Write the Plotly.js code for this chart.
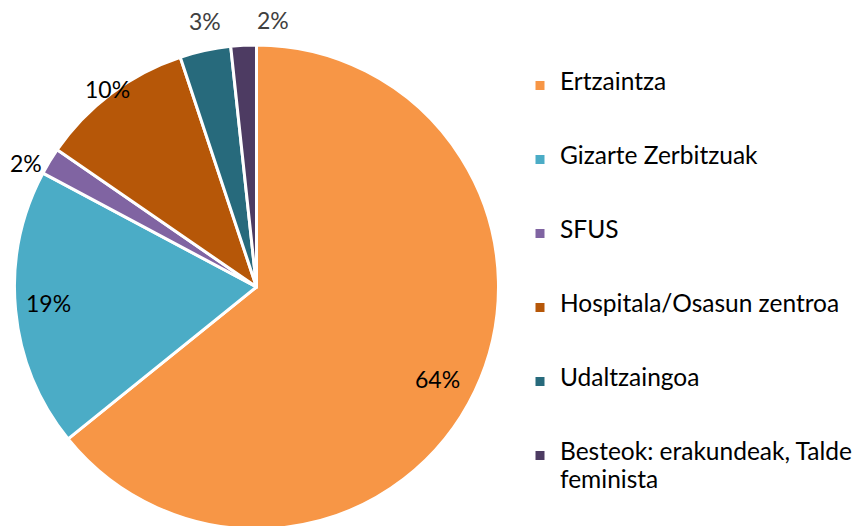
<!DOCTYPE html>
<html>
<head>
<meta charset="utf-8">
<script src="https://cdn.plot.ly/plotly-3.0.1.min.js"></script>
<style>html,body{margin:0;padding:0;background:#fff;overflow:hidden;}#chart{width:862px;height:529px;}</style>
</head>
<body>
<div id="chart"></div>
<script>
var categories = ["Ertzaintza", "Gizarte Zerbitzuak", "SFUS", "Hospitala/Osasun zentroa", "Udaltzaingoa", "Besteok: erakundeak, Talde feminista"];
var values = [64.2, 18.6, 1.8, 10.3, 3.4, 1.7];
var colors = ["#F79646", "#4BACC6", "#8064A2", "#B65708", "#276A7C", "#4D3B62"];
var labelColors = ["#000000", "#000000", "#000000", "#000000", "#404040", "#404040"];
// label placement (style): radius as a fraction of the pie radius, and small angular nudge in degrees
var labelRadius = [0.84, 0.86, 1.08, 1.025, 1.12, 1.105];
var labelNudge = [1.5, 1, -3, 0, 1.2, 6.6];

var W = 862, H = 529;
var pieLeft = 14.5, pieRight = 498.5, pieTop = 45;
var R = (pieRight - pieLeft) / 2;
var cx = (pieLeft + pieRight) / 2, cy = pieTop + R;

var bigFont = 24.5;
var legendLabels = categories.map(function (c) {
  var parts = c === "Besteok: erakundeak, Talde feminista"
    ? ["Besteok: erakundeak, Talde", " ", "feminista", " ", " "]
    : [c, " ", " ", " ", " "];
  return parts.map(function (p) { return '<span style="font-size:' + bigFont + 'px">' + p + '</span>'; }).join("<br>");
});

var total = values.reduce(function (a, b) { return a + b; }, 0);
var annotations = [];
var cum = 0;
values.forEach(function (v, i) {
  var mid = (cum + v / 2) / total * 360 + labelNudge[i];
  cum += v;
  var th = mid * Math.PI / 180;
  var r = R * labelRadius[i];
  var px = cx + r * Math.sin(th);
  var py = cy - r * Math.cos(th);
  annotations.push({
    xref: "paper", yref: "paper",
    x: px / W, y: 1 - py / H,
    xanchor: "center", yanchor: "middle",
    text: Math.round(v / total * 100) + "%",
    showarrow: false,
    font: { family: "Lato, sans-serif", size: 23, color: labelColors[i] }
  });
});

var trace = {
  type: "pie",
  labels: legendLabels,
  values: values,
  sort: false,
  direction: "clockwise",
  rotation: 0,
  marker: { colors: colors, line: { color: "#ffffff", width: 3 } },
  textinfo: "none",
  hoverinfo: "none",
  automargin: false,
  domain: { x: [pieLeft / W, pieRight / W], y: [0, (H - pieTop) / H] }
};

var layout = {
  width: W,
  height: H,
  margin: { l: 0, r: 0, t: 0, b: 0 },
  paper_bgcolor: "#ffffff",
  font: { family: "Lato, sans-serif", color: "#000000" },
  showlegend: true,
  annotations: annotations,
  legend: {
    x: 520 / W,
    xanchor: "left",
    y: 1 - 72 / H,
    yanchor: "top",
    valign: "top",
    font: { family: "Lato, sans-serif", size: 10.92, color: "#000000" },
    bgcolor: "rgba(0,0,0,0)"
  }
};

Plotly.newPlot("chart", [trace], layout, { staticPlot: true });
</script>
</body>
</html>
